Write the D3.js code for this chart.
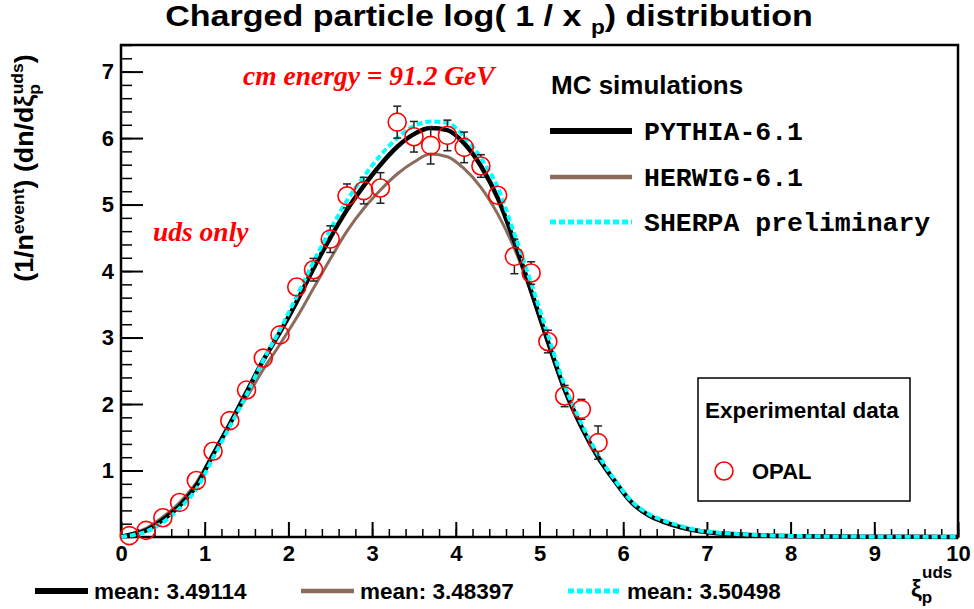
<!DOCTYPE html>
<html>
<head>
<meta charset="utf-8">
<script src="https://cdn.jsdelivr.net/npm/d3@7"></script>
<style>
  body { margin: 0; background: #fff; }
  text { font-family: "Liberation Sans", Arial, sans-serif; font-weight: bold; }
</style>
</head>
<body>
<script>
// OPAL data points (xi, value, error)
var opalXi = [0.1, 0.3, 0.5, 0.7, 0.9, 1.1, 1.3, 1.5, 1.7, 1.9, 2.1, 2.3, 2.5, 2.7, 2.9,
              3.1, 3.3, 3.5, 3.7, 3.9, 4.1, 4.3, 4.5, 4.7, 4.9, 5.1, 5.3, 5.5, 5.7];
var opalVal = [0.02, 0.10, 0.29, 0.52, 0.85, 1.29, 1.75, 2.21, 2.69, 3.04, 3.76, 4.02, 4.48, 5.13, 5.21,
               5.25, 6.24, 6.02, 5.89, 6.04, 5.86, 5.58, 5.14, 4.22, 3.97, 2.94, 2.12, 1.92, 1.42];
var opalErr = [0.02, 0.03, 0.04, 0.05, 0.06, 0.07, 0.08, 0.09, 0.10, 0.11, 0.12, 0.17, 0.20, 0.18, 0.20,
               0.23, 0.24, 0.23, 0.28, 0.23, 0.23, 0.17, 0.12, 0.26, 0.17, 0.17, 0.16, 0.15, 0.25];

// MC curves, sampled on the same xi grid
var curveXi = [0, 0.1, 0.3, 0.5, 0.7, 0.9, 1.1, 1.3, 1.5, 1.7, 1.9, 2.1, 2.3, 2.5, 2.7, 2.9, 3.1, 3.3, 3.5, 3.7,
               3.9, 4.1, 4.3, 4.5, 4.7, 4.9, 5.1, 5.3, 5.5, 5.7, 5.9, 6.1, 6.3, 6.5, 6.7, 6.9, 7.1, 7.3,
               7.7, 8.1, 8.5, 9.0, 9.5, 10.0];
var pythia = [0.0, 0.03, 0.10, 0.26, 0.47, 0.77, 1.24, 1.70, 2.18, 2.66, 3.08, 3.54, 4.04, 4.50, 4.92, 5.28,
              5.60, 5.87, 6.06, 6.15, 6.12, 5.92, 5.58, 5.10, 4.44, 3.70, 2.94, 2.22, 1.66, 1.20, 0.84, 0.52,
              0.33, 0.22, 0.14, 0.09, 0.06, 0.045, 0.022, 0.012, 0.007, 0.004, 0.002, 0.001];
var herwig = [0.0, 0.04, 0.13, 0.30, 0.52, 0.82, 1.25, 1.70, 2.10, 2.52, 2.90, 3.30, 3.74, 4.18, 4.60, 4.94,
              5.22, 5.46, 5.64, 5.76, 5.72, 5.54, 5.26, 4.86, 4.34, 3.68, 2.92, 2.20, 1.66, 1.21, 0.85, 0.53,
              0.34, 0.23, 0.15, 0.10, 0.065, 0.048, 0.025, 0.014, 0.008, 0.005, 0.003, 0.002];
var sherpa = [0.0, 0.02, 0.08, 0.22, 0.43, 0.72, 1.19, 1.66, 2.14, 2.66, 3.12, 3.62, 4.14, 4.62, 5.06, 5.42,
              5.74, 6.00, 6.18, 6.25, 6.23, 6.02, 5.70, 5.26, 4.56, 3.82, 3.04, 2.28, 1.71, 1.24, 0.86, 0.54,
              0.35, 0.24, 0.16, 0.10, 0.07, 0.05, 0.025, 0.014, 0.008, 0.005, 0.003, 0.002];

var mcNames = ["PYTHIA-6.1", "HERWIG-6.1", "SHERPA preliminary"];
var mcMeans = ["3.49114", "3.48397", "3.50498"];
var xTicks = [0, 1, 2, 3, 4, 5, 6, 7, 8, 9, 10];
var yTicks = [1, 2, 3, 4, 5, 6, 7];

var W = 974, H = 609;
var brown = "#8b6b5b";
var styles = [
    {color: "#000", width: 4.5, dash: null, legW: 6},
    {color: brown, width: 3, dash: null, legW: 4.5},
    {color: "#00ffff", width: 4, dash: "6,3", legW: 5}
];

var svg = d3.select("body").append("svg")
    .attr("width", W)
    .attr("height", H);

var x = d3.scaleLinear().domain([0, 10]).range([121, 958]);
var y = d3.scaleLinear().domain([0, 7.4]).range([537, 45]);

// squeeze a text to a given width
function fitX(sel, tx, ty, width, extra) {
    var w = sel.node().getComputedTextLength();
    sel.attr("transform", "translate(" + tx + "," + ty + ")" + (extra || "") + " scale(" + (width / w) + ",1)");
}

// title
var title = svg.append("text")
    .attr("text-anchor", "middle")
    .style("font-size", "30px");
title.append("tspan").text("Charged particle log( 1 / x ");
title.append("tspan").attr("dy", 8).style("font-size", "20px").text("p");
title.append("tspan").attr("dy", -8).text(") distribution");
fitX(title, 489, 26, 648);

// minor ticks
svg.append("g")
    .attr("transform", "translate(0,537)")
    .call(d3.axisBottom(x).tickValues(d3.range(0, 10.01, 0.2)).tickSize(-8).tickFormat(""))
    .call(function (g) { g.select(".domain").remove(); })
    .selectAll("line").attr("stroke-width", 1.5);
svg.append("g")
    .attr("transform", "translate(121,0)")
    .call(d3.axisLeft(y).tickValues(d3.range(0, 7.41, 0.2)).tickSize(-11).tickFormat(""))
    .call(function (g) { g.select(".domain").remove(); })
    .selectAll("line").attr("stroke-width", 1.5);

// major ticks + labels
var gx = svg.append("g")
    .attr("transform", "translate(0,537)")
    .call(d3.axisBottom(x).tickValues(xTicks).tickSize(-15).tickPadding(8).tickFormat(d3.format("d")));
gx.select(".domain").remove();
gx.selectAll("line").attr("stroke-width", 2);
gx.selectAll("text")
    .style("font-size", "22px")
    .style("font-family", "Liberation Sans, Arial, sans-serif")
    .style("font-weight", "bold")
    .attr("fill", "#000");

var gy = svg.append("g")
    .attr("transform", "translate(121,0)")
    .call(d3.axisLeft(y).tickValues(yTicks).tickSize(-22).tickPadding(7).tickFormat(d3.format("d")));
gy.select(".domain").remove();
gy.selectAll("line").attr("stroke-width", 2);
gy.selectAll("text")
    .style("font-size", "22px")
    .style("font-family", "Liberation Sans, Arial, sans-serif")
    .style("font-weight", "bold")
    .attr("fill", "#000");

// frame
svg.append("rect")
    .attr("x", 121).attr("y", 45)
    .attr("width", 958 - 121).attr("height", 537 - 45)
    .attr("fill", "none")
    .attr("stroke", "#000")
    .attr("stroke-width", 2.5);

// MC curves
var line = d3.line()
    .x(function (d) { return x(d[0]); })
    .y(function (d) { return y(d[1]); })
    .curve(d3.curveMonotoneX);

[herwig, pythia, sherpa].forEach(function (vals) {
    var i = [pythia, herwig, sherpa].indexOf(vals);
    var pts = curveXi.map(function (xi, k) { return [xi, vals[k]]; });
    svg.append("path")
        .datum(pts)
        .attr("d", line)
        .attr("fill", "none")
        .attr("stroke", styles[i].color)
        .attr("stroke-width", styles[i].width)
        .attr("stroke-dasharray", styles[i].dash);
});

// OPAL points with error bars
var R = 9;
var pts = svg.append("g");
opalXi.forEach(function (xi, i) {
    var cx = x(xi), cy = y(opalVal[i]);
    var yTop = y(opalVal[i] + opalErr[i]), yBot = y(opalVal[i] - opalErr[i]);
    if (cy - yTop > R) {
        pts.append("line").attr("x1", cx).attr("x2", cx).attr("y1", yTop).attr("y2", cy - R);
        pts.append("line").attr("x1", cx - 4).attr("x2", cx + 4).attr("y1", yTop).attr("y2", yTop);
        pts.append("line").attr("x1", cx).attr("x2", cx).attr("y1", cy + R).attr("y2", yBot);
        pts.append("line").attr("x1", cx - 4).attr("x2", cx + 4).attr("y1", yBot).attr("y2", yBot);
    }
    pts.append("circle")
        .attr("cx", cx).attr("cy", cy).attr("r", R)
        .attr("fill", "none")
        .attr("stroke", "#ff0000")
        .attr("stroke-width", 1.6);
});
pts.selectAll("line").attr("stroke", "#222").attr("stroke-width", 1.5);

// y axis title
var yt = svg.append("text")
    .attr("text-anchor", "middle")
    .style("font-size", "26px");
yt.append("tspan").text("(1/n");
yt.append("tspan").attr("dy", -9).style("font-size", "17px").text("event");
yt.append("tspan").attr("dy", 9).text(") (dn/d\u03be");
yt.append("tspan").attr("dy", 7).style("font-size", "17px").text("p");
yt.append("tspan").attr("dx", -10).attr("dy", -17).style("font-size", "17px").text("uds");
yt.append("tspan").attr("dy", 10).text(")");
fitX(yt, 33, 168, 238, " rotate(-90)");

// red annotations
svg.append("text")
    .attr("x", 243).attr("y", 85)
    .attr("fill", "#ff0000")
    .style("font-family", "Liberation Serif, Times New Roman, serif")
    .style("font-style", "italic")
    .style("font-size", "27.5px")
    .text("cm energy = 91.2 GeV");
svg.append("text")
    .attr("x", 153).attr("y", 241)
    .attr("fill", "#ff0000")
    .style("font-family", "Liberation Serif, Times New Roman, serif")
    .style("font-style", "italic")
    .style("font-size", "27.5px")
    .text("uds only");

// MC legend
svg.append("text")
    .attr("x", 551).attr("y", 94)
    .style("font-size", "26px")
    .text("MC simulations");
var legY = [131, 177, 222];
mcNames.forEach(function (name, i) {
    svg.append("line")
        .attr("x1", 550).attr("x2", 632)
        .attr("y1", legY[i]).attr("y2", legY[i])
        .attr("stroke", styles[i].color)
        .attr("stroke-width", styles[i].legW)
        .attr("stroke-dasharray", styles[i].dash);
    svg.append("text")
        .attr("x", 644).attr("y", legY[i] + 9)
        .style("font-family", "Liberation Mono, Courier New, monospace")
        .style("font-size", "26.5px")
        .text(name);
});

// experimental data box
svg.append("rect")
    .attr("x", 698).attr("y", 378)
    .attr("width", 212).attr("height", 123)
    .attr("fill", "#fff")
    .attr("stroke", "#000")
    .attr("stroke-width", 1.5);
svg.append("text")
    .attr("x", 705).attr("y", 418)
    .style("font-size", "22.5px")
    .text("Experimental data");
svg.append("circle")
    .attr("cx", 724).attr("cy", 471).attr("r", R)
    .attr("fill", "none")
    .attr("stroke", "#ff0000")
    .attr("stroke-width", 1.6);
svg.append("text")
    .attr("x", 752).attr("y", 479)
    .style("font-size", "22px")
    .text("OPAL");

// mean legend along the bottom
var meanX = [35, 301, 568];
mcMeans.forEach(function (m, i) {
    svg.append("line")
        .attr("x1", meanX[i]).attr("x2", meanX[i] + 53)
        .attr("y1", 591).attr("y2", 591)
        .attr("stroke", styles[i].color)
        .attr("stroke-width", styles[i].legW)
        .attr("stroke-dasharray", styles[i].dash);
    svg.append("text")
        .attr("x", meanX[i] + 59).attr("y", 599)
        .style("font-size", "22.5px")
        .text("mean: " + m);
});

// x axis title
var xt = svg.append("text")
    .attr("x", 911).attr("y", 597)
    .style("font-size", "24px");
xt.append("tspan").text("\u03be");
xt.append("tspan").attr("dy", 6).style("font-size", "17px").text("p");
xt.append("tspan").attr("dx", -10).attr("dy", -25).style("font-size", "17px").text("uds");
</script>
</body>
</html>
